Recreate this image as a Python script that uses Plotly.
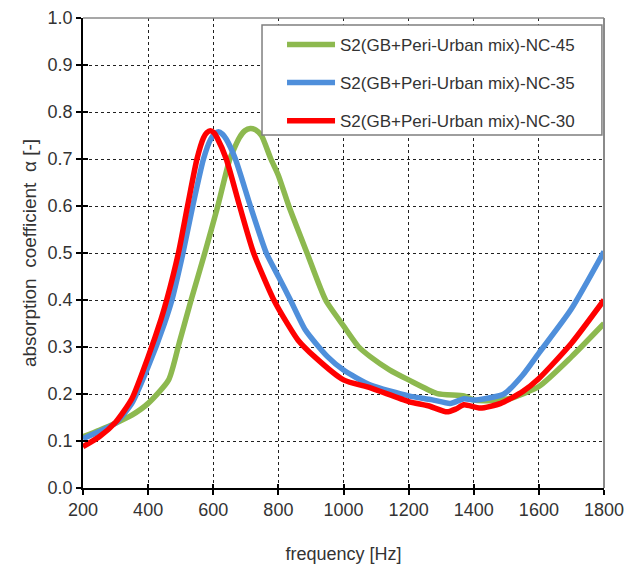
import plotly.graph_objects as go

# ---- data ----
freq_nc45 = [200, 250, 300, 350, 400, 463, 496, 532, 574, 614, 651, 680, 697, 714, 730, 748, 777, 800, 832, 888,
             945, 1000, 1047, 1083, 1140, 1200, 1288, 1370, 1400, 1460, 1514, 1600, 1700, 1800]
alpha_nc45 = [0.109, 0.123, 0.138, 0.155, 0.180, 0.230, 0.310, 0.400, 0.500, 0.600, 0.700, 0.745, 0.760, 0.765,
              0.762, 0.750, 0.700, 0.665, 0.600, 0.500, 0.400, 0.345, 0.300, 0.279, 0.252, 0.230, 0.201, 0.196,
              0.187, 0.186, 0.191, 0.216, 0.279, 0.350]

freq_nc35 = [200, 250, 300, 350, 400, 450, 473, 507, 537, 570, 592, 604, 616, 628, 640, 668, 714, 763, 800, 837,
             883, 950, 1000, 1083, 1200, 1270, 1328, 1370, 1400, 1450, 1493, 1550, 1600, 1698, 1800]
alpha_nc35 = [0.105, 0.120, 0.138, 0.180, 0.258, 0.350, 0.400, 0.500, 0.600, 0.700, 0.742, 0.753, 0.758, 0.753,
              0.742, 0.700, 0.600, 0.500, 0.450, 0.400, 0.336, 0.280, 0.251, 0.219, 0.196, 0.188, 0.180, 0.190,
              0.187, 0.192, 0.200, 0.240, 0.287, 0.379, 0.503]

freq_nc30 = [200, 250, 300, 350, 400, 440, 457, 493, 521, 550, 570, 580, 591, 602, 612, 640, 681, 724, 786, 830,
             860, 910, 1000, 1083, 1200, 1260, 1318, 1345, 1370, 1420, 1483, 1550, 1600, 1700, 1800]
alpha_nc30 = [0.088, 0.109, 0.140, 0.190, 0.279, 0.360, 0.400, 0.500, 0.600, 0.700, 0.745, 0.756, 0.760, 0.756,
              0.745, 0.700, 0.600, 0.500, 0.400, 0.347, 0.315, 0.280, 0.230, 0.213, 0.184, 0.175, 0.162, 0.168,
              0.177, 0.170, 0.180, 0.205, 0.233, 0.308, 0.400]

names = ["S2(GB+Peri-Urban mix)-NC-45", "S2(GB+Peri-Urban mix)-NC-35", "S2(GB+Peri-Urban mix)-NC-30"]
colors = ["#8DB94F", "#4F8FDB", "#FF0000"]

x_ticks = [200, 400, 600, 800, 1000, 1200, 1400, 1600, 1800]
y_ticks = [0.0, 0.1, 0.2, 0.3, 0.4, 0.5, 0.6, 0.7, 0.8, 0.9, 1.0]

FONT = "Liberation Sans, Arial, sans-serif"
TXT = "#333333"
NB = "\u00a0"

fig = go.Figure()
for fx, ay, nm, col in zip([freq_nc45, freq_nc35, freq_nc30], [alpha_nc45, alpha_nc35, alpha_nc30], names, colors):
    fig.add_trace(go.Scatter(x=fx, y=ay, mode="lines", name=nm, legendgroup=nm,
                             line=dict(color=col, width=5.5, shape="spline", smoothing=0.6)))

# legend frame drawn as a shape (covers curves beneath)
fig.add_shape(type="rect", xref="paper", yref="paper", x0=0.3436, x1=0.996, y0=0.751, y1=0.985,
              line=dict(color="#7f7f7f", width=1.5), fillcolor="white", layer="above")

# top / right grey frame
fig.add_shape(type="line", xref="paper", yref="paper", x0=0, x1=1, y0=1, y1=1,
              line=dict(color="#8a8a8a", width=1.5), layer="above")
fig.add_shape(type="line", xref="paper", yref="paper", x0=1, x1=1, y0=0, y1=1,
              line=dict(color="#8a8a8a", width=2), layer="above")

ytitle = "absorption" + NB + " coefficient" + NB + " α [-]"

fig.update_layout(
    width=627, height=566,
    margin=dict(l=83, r=23, t=18, b=78, autoexpand=False),
    paper_bgcolor="white", plot_bgcolor="white",
    font=dict(family=FONT, size=18, color=TXT),
    showlegend=True,
    legend=dict(x=0.382, y=0.981, xanchor="left", yanchor="top",
                bgcolor="rgba(0,0,0,0)", borderwidth=0,
                traceorder="grouped", tracegroupgap=13, itemwidth=48,
                font=dict(family=FONT, size=17, color=TXT)),
    xaxis=dict(range=[200, 1800], tickvals=x_ticks, ticktext=[str(v) for v in x_ticks],
               showgrid=True, gridcolor="#202020", griddash="dot", gridwidth=1,
               showline=True, linecolor="black", linewidth=1.5,
               ticks="outside", ticklen=5, tickcolor="black", tickwidth=1.5,
               zeroline=False, automargin=False,
               title=dict(text="frequency [Hz]", font=dict(size=18, color=TXT), standoff=28),
               tickfont=dict(size=18, color=TXT)),
    yaxis=dict(range=[0, 1.0], tickvals=y_ticks, ticktext=[f"{v:.1f}" for v in y_ticks],
               showgrid=True, gridcolor="#202020", griddash="dot", gridwidth=1,
               showline=True, linecolor="black", linewidth=1.5,
               ticks="outside", ticklen=5, tickcolor="black", tickwidth=1.5,
               zeroline=False, automargin=False,
               title=dict(text=ytitle, font=dict(size=19, color=TXT), standoff=6),
               tickfont=dict(size=18, color=TXT)),
    xaxis2=dict(overlaying="x", matches="x", side="bottom", range=[200, 1800], tickvals=x_ticks,
                showticklabels=False, showgrid=False, showline=False, zeroline=False, automargin=False,
                ticks="inside", ticklen=4, tickcolor="black", tickwidth=1.5),
    yaxis2=dict(overlaying="y", matches="y", side="left", range=[0, 1.0], tickvals=y_ticks,
                showticklabels=False, showgrid=False, showline=False, zeroline=False, automargin=False,
                ticks="inside", ticklen=5, tickcolor="black", tickwidth=1.5),
)
# invisible trace to activate the overlay axes for inner tick marks
fig.add_trace(go.Scatter(x=[200], y=[0], xaxis="x2", yaxis="y2", mode="markers",
                         marker=dict(opacity=0), showlegend=False, hoverinfo="skip"))

fig.write_html("out.html")
